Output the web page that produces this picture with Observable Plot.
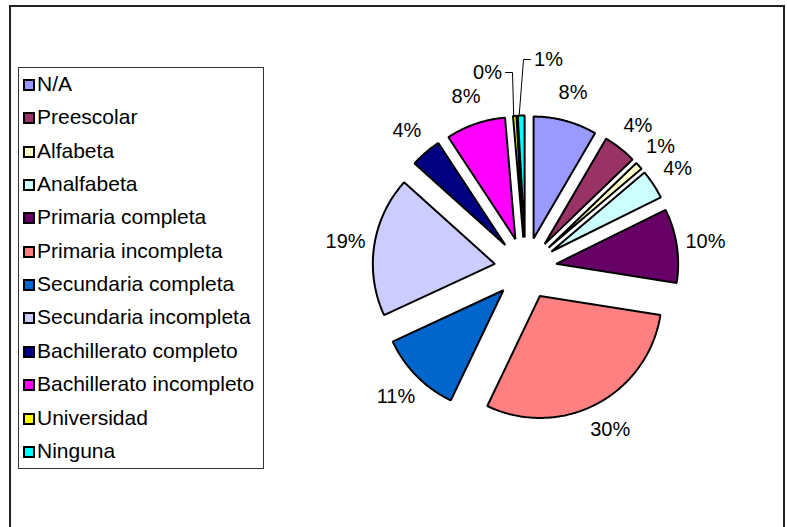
<!DOCTYPE html>
<html>
<head>
<meta charset="utf-8">
<script src="https://cdn.jsdelivr.net/npm/d3@7"></script>
<script src="https://cdn.jsdelivr.net/npm/@observablehq/plot@0.6"></script>
<style>
  body { margin: 0; background: #fff; font-family: Arial, "Liberation Sans", sans-serif; }
  #wrap { position: relative; width: 787px; height: 527px; overflow: hidden; background: #fff; }
  #chart { position: absolute; left: 0; top: 0; }
  #border { position: absolute; left: 9px; top: 5px; width: 776px; height: 540px; border: 2px solid #222; box-sizing: border-box; pointer-events: none; }
  #legend { position: absolute; left: 18px; top: 67px; width: 246px; height: 402px; border: 1px solid #333; box-sizing: border-box; background: #fff; }
  .item { position: absolute; left: 4px; height: 20px; display: flex; align-items: center; font-size: 21px; white-space: nowrap; color: #000; }
  .sw { width: 8px; height: 8px; border: 2px solid #000; margin-right: 2px; margin-top: 2px; flex: none; }
</style>
</head>
<body>
<div id="wrap">
  <div id="chart"></div>
  <div id="legend"></div>
  <div id="border"></div>
</div>
<script>
// ---- data ----
const categories = [
  "N/A", "Preescolar", "Alfabeta", "Analfabeta", "Primaria completa",
  "Primaria incompleta", "Secundaria completa", "Secundaria incompleta",
  "Bachillerato completo", "Bachillerato incompleto", "Universidad", "Ninguna"
];
const values = [8.4, 4.4, 1.0, 3.9, 9.8, 29.6, 11.0, 18.55, 4.1, 7.9, 0.45, 0.9];
const colors = [
  "#9999FF", "#993366", "#FFFFCC", "#CCFFFF", "#660066",
  "#FF8080", "#0066CC", "#CCCCFF", "#000080", "#FF00FF", "#FFFF00", "#00FFFF"
];

// ---- layout ----
const W = 787, H = 527;
const cx = 525, cy = 268;   // pie centre
const R = 122;              // radius
const D = 31;               // explosion offset
const LR = 182;             // label radius

const total = d3.sum(values);
const arcs = d3.pie().sort(null).value(d => d)(values);

const polyPts = [];
const labels = [];
const leaders = [];
arcs.forEach((a, i) => {
  const name = categories[i];
  const m = (a.startAngle + a.endAngle) / 2;
  const ox = cx + D * Math.sin(m), oy = cy - D * Math.cos(m);
  polyPts.push({name, x: ox, y: oy});
  const n = Math.max(2, Math.ceil((a.endAngle - a.startAngle) / 0.01) + 1);
  for (let k = 0; k < n; k++) {
    const t = a.startAngle + (a.endAngle - a.startAngle) * k / (n - 1);
    polyPts.push({name, x: ox + R * Math.sin(t), y: oy - R * Math.cos(t)});
  }
  const txt = Math.round(values[i] / total * 100) + "%";
  const ex = ox + R * Math.sin(m), ey = oy - R * Math.cos(m); // outer mid-arc point
  if (name === "Universidad") {
    const lx = cx - 38, ly = cy - 196;
    labels.push({x: lx, y: ly, text: txt});
    leaders.push({name, x: lx + 18, y: ly}, {name, x: lx + 25, y: ly}, {name, x: ex - 1, y: ey});
  } else if (name === "Ninguna") {
    const lx = cx + 23, ly = cy - 209;
    labels.push({x: lx, y: ly, text: txt});
    leaders.push({name, x: lx - 18, y: ly}, {name, x: lx - 25, y: ly}, {name, x: ex - 2, y: ey});
  } else {
    labels.push({x: cx + LR * Math.sin(m), y: cy - LR * Math.cos(m), text: txt});
  }
});

const plot = Plot.plot({
  width: W,
  height: H,
  margin: 0,
  x: {domain: [0, W], axis: null},
  y: {domain: [H, 0], axis: null},
  color: {domain: categories, range: colors},
  style: {fontFamily: "Arial, 'Liberation Sans', sans-serif", background: "#fff"},
  marks: [
    Plot.line(polyPts, {
      x: "x", y: "y", z: "name", fill: "name",
      stroke: "#000", strokeWidth: 2, curve: "linear-closed",
      strokeLinejoin: "miter"
    }),
    Plot.line(leaders, {x: "x", y: "y", z: "name", stroke: "#000", strokeWidth: 1}),
    Plot.text(labels, {x: "x", y: "y", text: "text", fontSize: 20, fill: "#000"})
  ]
});
document.getElementById("chart").appendChild(plot);

// ---- legend ----
const legend = document.getElementById("legend");
categories.forEach((c, i) => {
  const centre = 84 + i * 33.35;
  const item = document.createElement("div");
  item.className = "item";
  item.style.top = (centre - 67 - 1 - 10) + "px";
  const sw = document.createElement("span");
  sw.className = "sw";
  sw.style.background = colors[i];
  const lab = document.createElement("span");
  lab.textContent = c;
  item.appendChild(sw);
  item.appendChild(lab);
  legend.appendChild(item);
});
</script>
</body>
</html>
